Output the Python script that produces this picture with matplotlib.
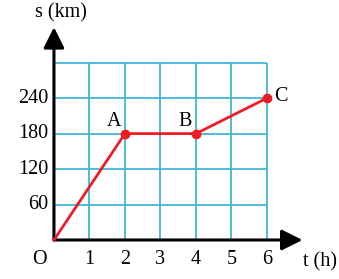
import matplotlib.pyplot as plt

# donnees
t_pts = [0, 2, 4, 6]
s_pts = [0, 180, 180, 240]
pt_labels = ["A", "B", "C"]
x_ticks = [1, 2, 3, 4, 5, 6]
y_ticks = [60, 120, 180, 240]
grid_x = [1, 2, 3, 4, 5, 6]
grid_y = [60, 120, 180, 240, 300]

GRID = "#3fb6d6"
RED = "#ee1c24"

plt.rcParams["font.family"] = ["Liberation Serif", "DejaVu Serif"]

fig = plt.figure(figsize=(3.39, 2.79), dpi=100)
ax = fig.add_axes([0, 0, 1, 1])
ax.set_xlim(-1.52, 8.03)
ax.set_ylim(-66, 406)
ax.axis("off")

# quadrillage
ax.vlines(grid_x, 0, grid_y[-1], color=GRID, lw=1.3, zorder=1)
ax.hlines(grid_y, 0, grid_x[-1], color=GRID, lw=1.3, zorder=1)

# axes avec fleches
arrow = dict(arrowstyle="-|>,head_length=0.9,head_width=0.45", color="black",
             lw=2.2, mutation_scale=14, shrinkA=0, shrinkB=0)
ax.annotate("", xy=(7.0, 0), xytext=(0, 0), arrowprops=arrow, zorder=3)
ax.annotate("", xy=(0, 360), xytext=(0, 0), arrowprops=arrow, zorder=3)

# courbe
ax.plot(t_pts, s_pts, color=RED, lw=2, zorder=4)
ax.plot(t_pts[1:], s_pts[1:], "o", color=RED, ms=6, zorder=5)

fs = 14.5
for v in x_ticks:
    ax.text(v, -33, str(v), ha="center", va="center", fontsize=fs)
for v in y_ticks:
    ax.text(-0.16, v, str(v), ha="right", va="center", fontsize=fs)
ax.text(-0.4, -33, "O", ha="center", va="center", fontsize=fs)

ax.text(t_pts[1] - 0.3, s_pts[1] + 20, pt_labels[0], ha="center", va="center", fontsize=fs)
ax.text(t_pts[2] - 0.3, s_pts[2] + 20, pt_labels[1], ha="center", va="center", fontsize=fs)
ax.text(t_pts[3] + 0.38, s_pts[3] + 3, pt_labels[2], ha="center", va="center", fontsize=fs)

ax.text(0.2, 384, "s (km)", ha="center", va="center", fontsize=fs)
ax.text(7.5, -37, "t (h)", ha="center", va="center", fontsize=fs)

fig.savefig("out.png", dpi=100)
